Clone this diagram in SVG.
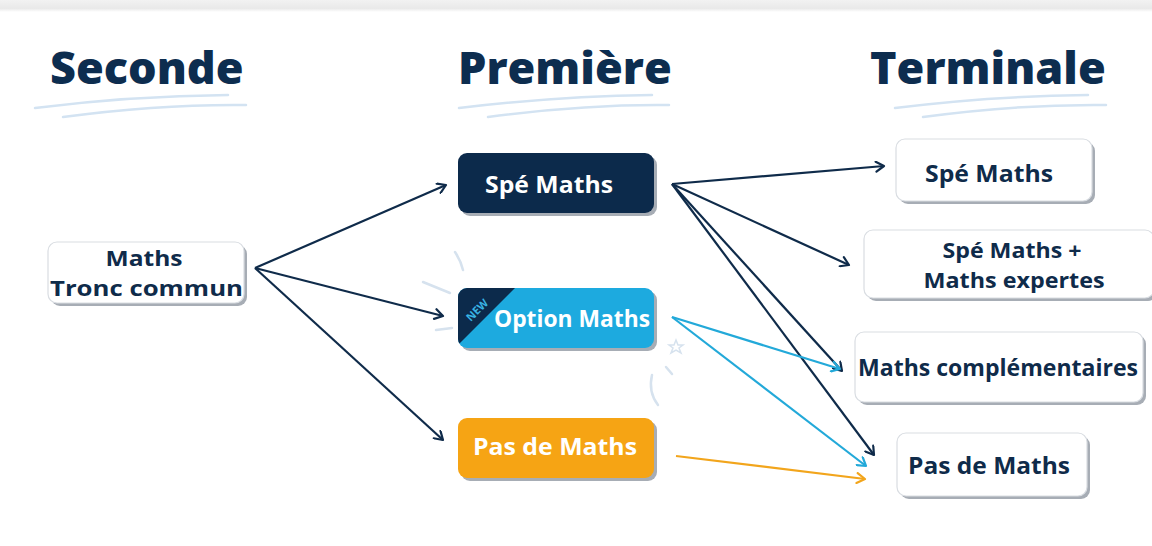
<svg xmlns="http://www.w3.org/2000/svg" width="1152" height="546" viewBox="0 0 1152 546">
  <defs>
    <linearGradient id="topband" x1="0" y1="0" x2="0" y2="1">
      <stop offset="0" stop-color="#f2f2f2"/>
      <stop offset="0.7" stop-color="#e9e9e9"/>
      <stop offset="1" stop-color="#ffffff"/>
    </linearGradient>
    <marker id="ahNavy" viewBox="0 0 12 12" refX="10" refY="6" markerWidth="12" markerHeight="12" markerUnits="userSpaceOnUse" orient="auto">
      <path d="M2,1 L10,6 L2,11" fill="none" stroke="#0f2b4a" stroke-width="2.2" stroke-linecap="round" stroke-linejoin="round"/>
    </marker>
    <marker id="ahCyan" viewBox="0 0 12 12" refX="10" refY="6" markerWidth="12" markerHeight="12" markerUnits="userSpaceOnUse" orient="auto">
      <path d="M2,1 L10,6 L2,11" fill="none" stroke="#23a9d9" stroke-width="2.2" stroke-linecap="round" stroke-linejoin="round"/>
    </marker>
    <marker id="ahOrange" viewBox="0 0 12 12" refX="10" refY="6" markerWidth="12" markerHeight="12" markerUnits="userSpaceOnUse" orient="auto">
      <path d="M2,1 L10,6 L2,11" fill="none" stroke="#f2a51c" stroke-width="2.2" stroke-linecap="round" stroke-linejoin="round"/>
    </marker>
    <clipPath id="optClip">
      <rect x="458" y="288" width="196" height="60" rx="9"/>
    </clipPath>
  </defs>
  <style>
    .title { font-family: "Open Sans", "Noto Sans", sans-serif; font-weight: 800; font-size: 45px; fill: #0d2d4f; }
    .swoosh { fill: none; stroke: #d3e3f2; stroke-width: 2.5; stroke-linecap: round; }
    .lbl { font-family: "Open Sans", "Noto Sans", sans-serif; font-weight: 700; font-size: 24px; text-anchor: middle; }
    .two { font-size: 21.5px; }
    .dark { fill: #0f2b4a; }
    .light { fill: #ffffff; }
    .wbox { fill: #ffffff; stroke: #d9dde2; stroke-width: 1.2; }
    .shadow { fill: #a7adb5; }
    .navy { fill: none; stroke: #0f2b4a; stroke-width: 2.2; marker-end: url(#ahNavy); }
    .cyan { fill: none; stroke: #23a9d9; stroke-width: 2.2; marker-end: url(#ahCyan); }
    .orange { fill: none; stroke: #f2a51c; stroke-width: 2.2; marker-end: url(#ahOrange); }
    .spark { fill: none; stroke: #d6e2ee; stroke-width: 2.5; stroke-linecap: round; }
  </style>

  <rect x="0" y="0" width="1152" height="546" fill="#ffffff"/>
  <rect x="0" y="0" width="1152" height="12" fill="url(#topband)"/>

  <g id="headers">
    <text class="title" x="50" y="84">Seconde</text>
    <path class="swoosh" d="M35,108 Q130,96 228,95"/>
    <path class="swoosh" d="M63,117 Q160,104 246,105"/>
    <text class="title" x="458" y="84">Première</text>
    <path class="swoosh" d="M459,108 Q560,96 652,95"/>
    <path class="swoosh" d="M488,117 Q585,104 669,105"/>
    <text class="title" x="870" y="84">Terminale</text>
    <path class="swoosh" d="M895,108 Q990,96 1088,95"/>
    <path class="swoosh" d="M923,117 Q1020,104 1106,105"/>
  </g>

  <g id="sparkles">
    <path class="spark" d="M455,252 Q461,261 463,270"/>
    <path class="spark" d="M423,282 L450,293"/>
    <path class="spark" d="M436,330 L452,328"/>
    <path class="spark" d="M676,340 l2,5 l5,0 l-4,3 l2,5 l-5,-3 l-5,3 l2,-5 l-4,-3 l5,0 z" style="stroke-width:1.5"/>
    <path class="spark" d="M666,367 L672,374"/>
    <path class="spark" d="M652,375 Q648,392 658,405"/>
  </g>

  <g id="connectors">
    <line class="navy" x1="255" y1="268" x2="446" y2="185"/>
    <line class="navy" x1="255" y1="268" x2="443" y2="316"/>
    <line class="navy" x1="255" y1="268" x2="443" y2="440"/>
    <line class="navy" x1="672" y1="184" x2="884" y2="166"/>
    <line class="navy" x1="672" y1="184" x2="849" y2="265"/>
    <line class="navy" x1="672" y1="184" x2="842" y2="371"/>
    <line class="navy" x1="672" y1="184" x2="874" y2="455"/>
    <line class="cyan" x1="672" y1="317" x2="840" y2="369"/>
    <line class="cyan" x1="672" y1="317" x2="866" y2="466"/>
    <line class="orange" x1="676" y1="456" x2="865" y2="479"/>
  </g>

  <g id="node-tronc">
    <rect class="shadow" x="51" y="245" width="196" height="61" rx="9"/>
    <rect class="wbox" x="48" y="242" width="196" height="61" rx="9"/>
    <text class="lbl two dark" x="144" y="266" textLength="77" lengthAdjust="spacingAndGlyphs">Maths</text>
    <text class="lbl two dark" x="146.5" y="296" textLength="193" lengthAdjust="spacingAndGlyphs">Tronc commun</text>
  </g>

  <g id="node-spe1">
    <rect class="shadow" x="461" y="156" width="196" height="60" rx="9"/>
    <rect x="458" y="153" width="196" height="60" rx="9" fill="#0c2a4b"/>
    <text class="lbl light" x="549" y="193" textLength="128" lengthAdjust="spacingAndGlyphs">Spé Maths</text>
  </g>

  <g id="node-option">
    <rect class="shadow" x="461" y="291" width="196" height="60" rx="9"/>
    <rect x="458" y="288" width="196" height="60" rx="9" fill="#1daadf"/>
    <polygon points="458,288 515,288 458,345" fill="#0c2a4b" clip-path="url(#optClip)"/>
    <text x="477" y="314" transform="rotate(-45 477 310)" font-family="'Open Sans', sans-serif" font-weight="700" font-size="11" fill="#39b4e4" text-anchor="middle">NEW</text>
    <text class="lbl light" x="572" y="327" textLength="156" lengthAdjust="spacingAndGlyphs">Option Maths</text>
  </g>

  <g id="node-pas1">
    <rect class="shadow" x="461" y="421" width="196" height="60" rx="9"/>
    <rect x="458" y="418" width="196" height="60" rx="9" fill="#f6a414"/>
    <text class="lbl light" x="555" y="455" textLength="164" lengthAdjust="spacingAndGlyphs">Pas de Maths</text>
  </g>

  <g id="node-spe2">
    <rect class="shadow" x="899" y="142" width="196" height="62" rx="9"/>
    <rect class="wbox" x="896" y="139" width="196" height="62" rx="9"/>
    <text class="lbl dark" x="989" y="182" textLength="128" lengthAdjust="spacingAndGlyphs">Spé Maths</text>
  </g>

  <g id="node-expertes">
    <rect class="shadow" x="867" y="233" width="290" height="68" rx="9"/>
    <rect class="wbox" x="864" y="230" width="290" height="68" rx="9"/>
    <text class="lbl two dark" x="1012" y="258" textLength="139" lengthAdjust="spacingAndGlyphs">Spé Maths +</text>
    <text class="lbl two dark" x="1014" y="288" textLength="181" lengthAdjust="spacingAndGlyphs">Maths expertes</text>
  </g>

  <g id="node-compl">
    <rect class="shadow" x="858" y="335" width="288" height="70" rx="9"/>
    <rect class="wbox" x="855" y="332" width="288" height="70" rx="9"/>
    <text class="lbl dark" x="998" y="376" textLength="280" lengthAdjust="spacingAndGlyphs">Maths complémentaires</text>
  </g>

  <g id="node-pas2">
    <rect class="shadow" x="900" y="436" width="190" height="63" rx="9"/>
    <rect class="wbox" x="897" y="433" width="190" height="63" rx="9"/>
    <text class="lbl dark" x="989" y="474" textLength="162" lengthAdjust="spacingAndGlyphs">Pas de Maths</text>
  </g>
</svg>
